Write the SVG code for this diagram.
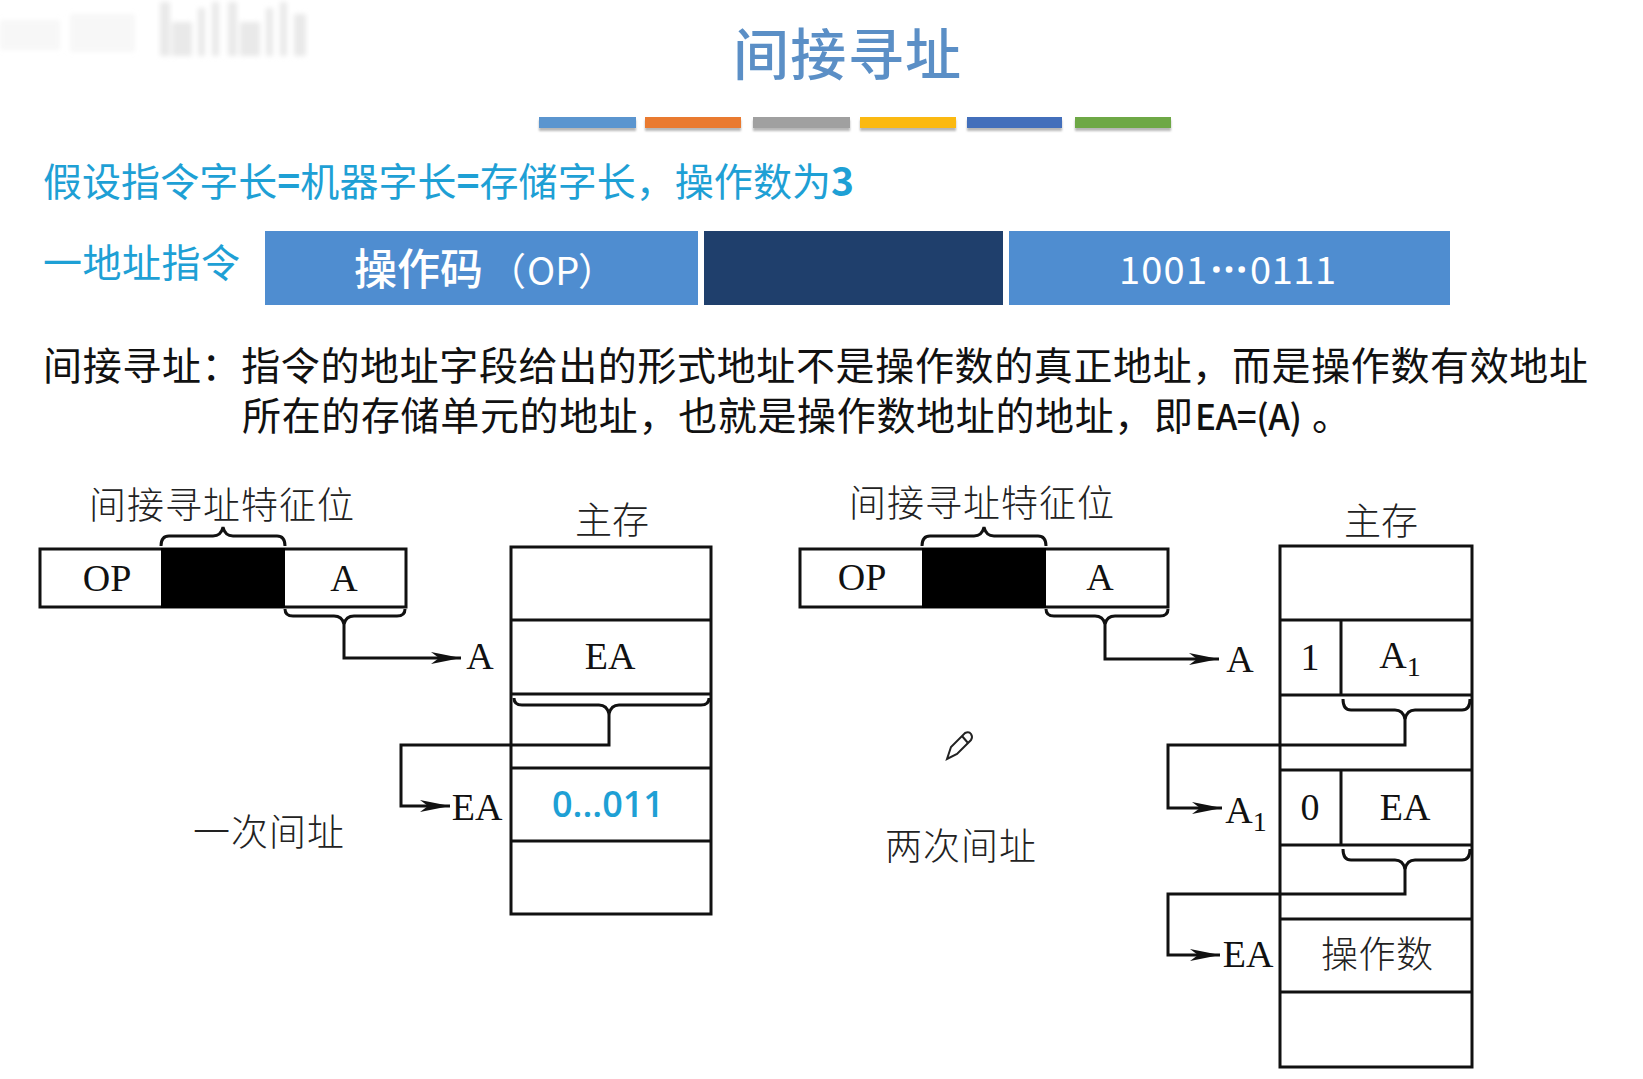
<svg xmlns="http://www.w3.org/2000/svg" width="1643" height="1079" viewBox="0 0 1643 1079">
<style>
.cjk{font-family:"Noto Sans CJK SC","Noto Sans",sans-serif}
.ser{font-family:"Liberation Serif","Noto Sans CJK SC",serif;font-size:38px;fill:#111;text-anchor:middle}
.fig{font-family:"Noto Sans CJK SC",sans-serif;font-size:37px;fill:#222;font-weight:300}
.blue{fill:#1ea0d5;font-size:39px;font-family:"Noto Sans CJK SC",sans-serif}
.body{fill:#111;font-size:39px;font-family:"Noto Sans CJK SC",sans-serif}
.wh{fill:#fff;font-size:43px;font-weight:500;font-family:"Noto Sans CJK SC",sans-serif}
.wh2{fill:#fff;font-size:38px;font-family:"Noto Sans CJK SC",sans-serif}
.box{fill:#fff;stroke:#111;stroke-width:3}
.ln{fill:none;stroke:#111;stroke-width:3}
.blk{fill:#000}
.b{font-weight:700}
</style>
<defs>
<marker id="arr" markerUnits="userSpaceOnUse" markerWidth="34" markerHeight="16" refX="30" refY="8" orient="auto"><path d="M0 2 L30 8 L0 14 L8 8 Z" fill="#111"/></marker>
<filter id="bl"><feGaussianBlur stdDeviation="2.5"/></filter>
<filter id="sh"><feGaussianBlur stdDeviation="1.2"/></filter>
</defs>
<rect width="1643" height="1079" fill="#fff"/>

<g id="watermark" fill="#e9e9e9" filter="url(#bl)">
<rect x="0" y="20" width="60" height="30" opacity=".35"/>
<rect x="70" y="14" width="65" height="38" opacity=".35"/>
<rect x="160" y="2" width="10" height="54"/><rect x="172" y="22" width="20" height="34"/>
<rect x="198" y="8" width="7" height="48"/><rect x="212" y="2" width="7" height="54"/>
<rect x="228" y="2" width="9" height="54"/><rect x="240" y="22" width="20" height="34"/>
<rect x="266" y="8" width="7" height="48"/><rect x="280" y="2" width="7" height="54"/><rect x="294" y="14" width="12" height="42"/>
</g>

<g id="header">
<text class="cjk" x="733" y="75" font-size="56" font-weight="500" fill="#5b8fc6" textLength="228">间接寻址</text>
<g fill="#888" filter="url(#sh)" opacity=".6">
<rect x="539" y="120" width="97" height="11"/><rect x="645" y="120" width="96" height="11"/><rect x="753" y="120" width="97" height="11"/><rect x="860" y="120" width="96" height="11"/><rect x="967" y="120" width="95" height="11"/><rect x="1075" y="120" width="96" height="11"/>
</g>
<rect x="539" y="117" width="97" height="11" fill="#5b95cf"/>
<rect x="645" y="117" width="96" height="11" fill="#e97a30"/>
<rect x="753" y="117" width="97" height="11" fill="#a0a0a0"/>
<rect x="860" y="117" width="96" height="11" fill="#fbb911"/>
<rect x="967" y="117" width="95" height="11" fill="#436fbb"/>
<rect x="1075" y="117" width="96" height="11" fill="#6ea846"/>
</g>

<g id="assumption"><text class="blue" x="43" y="196" textLength="811">假设指令字长<tspan class="b">=</tspan>机器字长<tspan class="b">=</tspan>存储字长，操作数为<tspan class="b">3</tspan></text></g>

<g id="instruction-format">
<text class="blue" x="43" y="277" textLength="197">一地址指令</text>
<rect x="265" y="231" width="433" height="74" fill="#4f8dd0"/>
<rect x="704" y="231" width="299" height="74" fill="#1f3f6c"/>
<rect x="1009" y="231" width="441" height="74" fill="#4f8dd0"/>
<text class="wh" x="354" y="285">操作码</text>
<text class="wh2" x="488" y="285">（</text>
<text class="wh2" x="527" y="285">OP</text>
<text class="wh2" x="578" y="285">）</text>
<text class="wh2" x="1119" y="284" textLength="88">1001</text>
<text class="wh2" x="1210" y="284" stroke="#fff" stroke-width="1.5">⋯</text>
<text class="wh2" x="1250" y="284" textLength="86">0111</text>
</g>

<g id="definition">
<text class="body" x="43" y="380" textLength="1545">间接寻址：指令的地址字段给出的形式地址不是操作数的真正地址，而是操作数有效地址</text>
<text class="body" x="242" y="430" textLength="951">所在的存储单元的地址，也就是操作数地址的地址，即</text>
<text class="body" x="1195" y="430" textLength="107" style="font-size:35px;font-weight:500">EA=(A)</text>
<text class="body" x="1312" y="430">。</text>
</g>

<g id="left-instruction">
<text class="fig" x="89" y="519" textLength="265">间接寻址特征位</text>
<rect class="box" x="40" y="549" width="366" height="58"/>
<rect class="blk" x="161" y="548" width="124" height="60"/>
<text class="ser" x="107" y="591">OP</text>
<text class="ser" x="344" y="591">A</text>
</g>
<g id="left-memory">
<text class="fig" x="575" y="534" textLength="74">主存</text>
<rect class="box" x="511" y="547" width="200" height="367"/>
<path class="ln" d="M511 620H711M511 694H711M511 768H711M511 841H711"/>
<text class="ser" x="610" y="669">EA</text>
<text x="608" y="817" font-family="Open Sans,Noto Sans,sans-serif" font-size="36" font-weight="600" fill="#1ea0d5" text-anchor="middle">0...011</text>
</g>
<g id="left-labels">
<text class="ser" x="480" y="669">A</text>
<text class="ser" x="477" y="820">EA</text>
<text class="fig" x="193" y="846" textLength="151">一次间址</text>
</g>

<g id="right-instruction">
<text class="fig" x="849" y="517" textLength="265">间接寻址特征位</text>
<rect class="box" x="800" y="549" width="368" height="58"/>
<rect class="blk" x="922" y="548" width="124" height="60"/>
<text class="ser" x="862" y="590">OP</text>
<text class="ser" x="1100" y="590">A</text>
</g>
<g id="right-memory">
<text class="fig" x="1344" y="535" textLength="74">主存</text>
<rect class="box" x="1280" y="546" width="192" height="521"/>
<path class="ln" d="M1280 620H1472M1280 695H1472M1280 770H1472M1280 845H1472M1280 919H1472M1280 992H1472M1341 620V695M1341 770V845"/>
<text class="ser" x="1310" y="670">1</text>
<text class="ser" x="1400" y="668">A<tspan font-size="28" dy="8">1</tspan></text>
<text class="ser" x="1310" y="820">0</text>
<text class="ser" x="1405" y="820">EA</text>
<text class="fig" x="1321" y="968" textLength="112">操作数</text>
</g>
<g id="right-labels">
<text class="ser" x="1240" y="672">A</text>
<text class="ser" x="1246" y="823">A<tspan font-size="28" dy="8">1</tspan></text>
<text class="ser" x="1248" y="967">EA</text>
<text class="fig" x="885" y="860" textLength="151">两次间址</text>
</g>

<g id="pencil" fill="none" stroke="#222" stroke-width="2">
<path d="M947 759 L951 747 L965 733 Q969 731 971 734 Q973 737 971 740 L957 754 Z"/>
<path d="M962 736 L968 743"/>
</g>

<g id="connectors">
<path class="ln" d="M161 546q0-10 8-10H213q8 0 10-9q2 9 10 9H277q8 0 8 10"/>
<path class="ln" d="M285 609q0 7 8 7H334q8 0 10 8q2-8 10-8H397q8 0 8-7"/>
<path class="ln" d="M344 622V658H461" marker-end="url(#arr)"/>
<path class="ln" d="M514 698q0 7 8 7H599q8 0 10 9q2-9 10-9H701q8 0 8-7"/>
<path class="ln" d="M609 714V745H401V806H450" marker-end="url(#arr)"/>

<path class="ln" d="M922 546q0-10 8-10H974q8 0 10-9q2 9 10 9H1038q8 0 8 10"/>
<path class="ln" d="M1046 609q0 7 8 7H1095q8 0 10 8q2-8 10-8H1160q8 0 8-7"/>
<path class="ln" d="M1105 622V659H1219" marker-end="url(#arr)"/>
<path class="ln" d="M1343 699q0 11 8 11H1395q8 0 10 9q2-9 10-9H1462q8 0 8-11"/>
<path class="ln" d="M1405 718V745H1168V808H1222" marker-end="url(#arr)"/>
<path class="ln" d="M1343 849q0 11 8 11H1395q8 0 10 9q2-9 10-9H1462q8 0 8-11"/>
<path class="ln" d="M1405 868V894H1168V955H1220" marker-end="url(#arr)"/>
</g>
</svg>
